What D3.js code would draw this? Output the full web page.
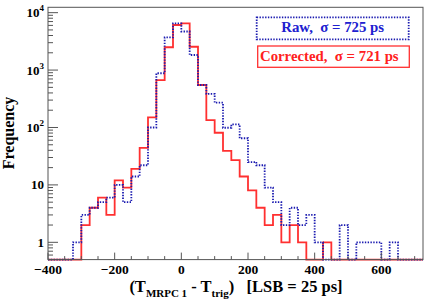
<!DOCTYPE html>
<html>
<head>
<meta charset="utf-8">
<script src="https://cdn.jsdelivr.net/npm/d3@7"></script>
<style>
  body { margin: 0; background: #fff; }
  svg { display: block; font-family: "Liberation Serif", "DejaVu Serif", serif; font-weight: bold; }
</style>
</head>
<body>
<svg id="chart" width="432" height="303"></svg>
<script>
// bin left edges, bin width 25
var binEdges = d3.range(-400, 725, 25);
// corrected histogram (red)
var corrected = [0, 0, 0, 0, 2, 4, 6, 3, 12, 9, 19, 44, 150, 670, 2500, 6100, 6500, 2550, 550, 134,
  81, 39, 27, 14, 8, 4, 2, 3, 1, 2, 1, 0, 0, 1, 0, 0, 0, 0, 0, 0, 0, 0, 0, 0, 0];
// raw histogram (blue dotted)
var raw = [0, 0, 0, 1, 3, 4, 5, 6, 10, 5, 14, 22, 100, 880, 3700, 6500, 4700, 1830, 550, 385,
  270, 99, 113, 65, 25, 22, 9, 5, 2, 4, 2, 3, 1, 0, 0, 2, 0, 1, 1, 1, 0, 1, 0, 0, 0];
var xTicks = [-400, -200, 0, 200, 400, 600];
var yTicks = [1, 10, 100, 1000, 10000];
var yLabels = [["1", ""], ["10", ""], ["10", "2"], ["10", "3"], ["10", "4"]];

(function () {
  var svg = d3.select('#chart');
  // note: "top" is a reserved window prop, so use pTop etc
  var pLeft = 48, pRight = 423, pTop = 7.3, pBottom = 259.6;
  var binW = 25;

  var x = d3.scaleLinear().domain([-400, 725]).range([pLeft, pRight]);
  var y = d3.scaleLog().domain([0.5, 12400]).range([pBottom, pTop]).clamp(true);

  function stepPts(vals) {
    var pts = binEdges.map((e, i) => [e, vals[i]]);
    pts.push([binEdges[binEdges.length - 1] + binW, vals[vals.length - 1]]);
    return pts;
  }
  var line = d3.line()
    .x(d => x(d[0]))
    .y(d => y(d[1] > 0 ? d[1] : 0.5))
    .curve(d3.curveStepAfter);

  // histograms
  svg.append('path').attr('d', line(stepPts(corrected)))
    .attr('fill', 'none').attr('stroke', '#ff3030').attr('stroke-width', 1.8);
  svg.append('path').attr('d', line(stepPts(raw)))
    .attr('fill', 'none').attr('stroke', '#1a1ab0').attr('stroke-width', 1.8)
    .attr('stroke-dasharray', '1.4,1.4');

  // frame
  svg.append('rect').attr('x', pLeft).attr('y', pTop)
    .attr('width', pRight - pLeft).attr('height', pBottom - pTop)
    .attr('fill', 'none').attr('stroke', '#555').attr('stroke-width', 1);

  // x ticks: major every 200, minor every 50
  var minorX = d3.range(-400, 726, 50);
  svg.append('g').selectAll('line').data(minorX).join('line')
    .attr('x1', d => x(d)).attr('x2', d => x(d))
    .attr('y1', pBottom).attr('y2', d => pBottom - (d % 200 === 0 ? 7 : 3.5))
    .attr('stroke', '#555').attr('stroke-width', 1);
  svg.append('g').selectAll('text').data(xTicks).join('text')
    .attr('x', d => x(d)).attr('y', 274)
    .attr('text-anchor', 'middle').attr('font-size', 13.5)
    .text(d => d < 0 ? '\u2212' + Math.abs(d) : d);

  // y ticks (log)
  var minorY = [];
  [0.1, 1, 10, 100, 1000, 10000].forEach(dec => {
    for (var k = 1; k < 10; k++) {
      var v = dec * k;
      if (v >= 0.5 && v <= 12400) minorY.push(v);
    }
  });
  svg.append('g').selectAll('line').data(minorY).join('line')
    .attr('x1', pLeft).attr('x2', d => pLeft + (yTicks.indexOf(d) >= 0 ? 10 : 5))
    .attr('y1', d => y(d)).attr('y2', d => y(d))
    .attr('stroke', '#555').attr('stroke-width', 1);
  var yl = svg.append('g').selectAll('text').data(yTicks).join('text')
    .attr('x', 44).attr('y', d => y(d) + 4.5)
    .attr('text-anchor', 'end').attr('font-size', 13);
  yl.each(function (d, i) {
    var t = d3.select(this);
    t.append('tspan').text(yLabels[i][0]);
    if (yLabels[i][1]) t.append('tspan').attr('dy', -6).attr('font-size', 9).text(yLabels[i][1]);
  });

  // axis titles
  svg.append('text').attr('transform', 'translate(14,133) rotate(-90)')
    .attr('text-anchor', 'middle').attr('font-size', 16).text('Frequency');
  var xt = svg.append('text').attr('x', 236).attr('y', 291.5)
    .attr('text-anchor', 'middle').attr('font-size', 16.5);
  xt.append('tspan').text('(T');
  xt.append('tspan').attr('font-size', 11).attr('dy', 5).text('MRPC 1');
  xt.append('tspan').attr('dy', -5).text(' - T');
  xt.append('tspan').attr('font-size', 11).attr('dy', 5).text('trig');
  xt.append('tspan').attr('dy', -5).text(')\u00a0\u00a0 [LSB = 25 ps]');

  // legend
  svg.append('rect').attr('x', 256.7).attr('y', 17.3).attr('width', 152).attr('height', 22)
    .attr('fill', '#fff').attr('stroke', '#1a1ab0').attr('stroke-width', 1.8)
    .attr('stroke-dasharray', '1.4,1.4');
  svg.append('text').attr('x', 332.7).attr('y', 32.3).attr('text-anchor', 'middle')
    .attr('font-size', 14.8).attr('fill', '#2020d0').text('Raw,\u00a0 \u03c3 = 725 ps');
  svg.append('rect').attr('x', 257.7).attr('y', 46).attr('width', 151.6).attr('height', 21.3)
    .attr('fill', '#fff').attr('stroke', '#ff3030').attr('stroke-width', 1.3);
  svg.append('text').attr('x', 329.3).attr('y', 60.7).attr('text-anchor', 'middle')
    .attr('font-size', 14.8).attr('fill', '#ff2020').text('Corrected,\u00a0 \u03c3 = 721 ps');
})();
</script>
</body>
</html>
